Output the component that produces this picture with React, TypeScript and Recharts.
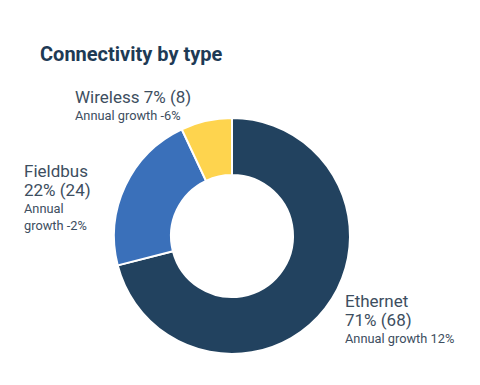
import React from 'react';
import { PieChart, Pie, Cell } from 'recharts';

const types = ['Ethernet', 'Fieldbus', 'Wireless'];
const shares = [71, 22, 7];
const counts = [68, 24, 8];
const growth = [12, -2, -6];
const colors = ['#22425f', '#3a70ba', '#fed44e'];

const data = types.map((name, i) => ({
  name,
  share: shares[i],
  count: counts[i],
  growth: growth[i],
}));

const FONT = 'Roboto, "Noto Sans", sans-serif';
const TEXT = '#3d4e60';

// label blocks, placed relative to the pie centre
const labelOffsets = [
  { dx: 113, dy: 71 },
  { dx: -208, dy: -59 },
  { dx: -157, dy: -133 },
];

const pct = (d: typeof data[number]) => `${d.share}% (${d.count})`;
const grow = (g: number) => `${g}%`;

const renderLabel = (props: any) => {
  const { cx, cy, index } = props;
  const d = data[index];
  const off = labelOffsets[index];
  const x = cx + off.dx;
  const y = cy + off.dy;
  let lines: Array<{ text: string; big: boolean }>;
  if (index === 0) {
    lines = [
      { text: d.name, big: true },
      { text: pct(d), big: true },
      { text: `Annual growth ${grow(d.growth)}`, big: false },
    ];
  } else if (index === 1) {
    lines = [
      { text: d.name, big: true },
      { text: pct(d), big: true },
      { text: 'Annual', big: false },
      { text: `growth ${grow(d.growth)}`, big: false },
    ];
  } else {
    lines = [
      { text: `${d.name} ${pct(d)}`, big: true },
      { text: `Annual growth ${grow(d.growth)}`, big: false },
    ];
  }
  let yy = y;
  return (
    <g>
      {lines.map((l, i) => {
        if (i > 0) yy += l.big ? 19 : 17;
        return (
          <text
            key={i}
            x={x}
            y={yy}
            fill={TEXT}
            fontFamily={FONT}
            fontSize={l.big ? 17 : 12.8}
            textAnchor="start"
          >
            {l.text}
          </text>
        );
      })}
    </g>
  );
};

const App: React.FC = () => {
  return (
    <div style={{ position: 'absolute', left: 0, top: 0, width: 480, height: 385, background: '#fff' }}>
      <div
        style={{
          position: 'absolute',
          left: 40,
          top: 42,
          fontFamily: FONT,
          fontWeight: 700,
          fontSize: 20,
          color: '#1e3a55',
          whiteSpace: 'nowrap',
        }}
      >
        Connectivity by type
      </div>
      <PieChart width={480} height={385} margin={{ top: 0, right: 0, bottom: 0, left: 0 }}>
        <Pie
          data={data}
          dataKey="share"
          nameKey="name"
          cx={232}
          cy={236}
          innerRadius={61}
          outerRadius={118}
          startAngle={90}
          endAngle={-270}
          stroke="#ffffff"
          strokeWidth={2}
          labelLine={false}
          label={renderLabel}
          isAnimationActive={false}
        >
          {data.map((d, i) => (
            <Cell key={d.name} fill={colors[i]} />
          ))}
        </Pie>
      </PieChart>
    </div>
  );
};

export default App;
